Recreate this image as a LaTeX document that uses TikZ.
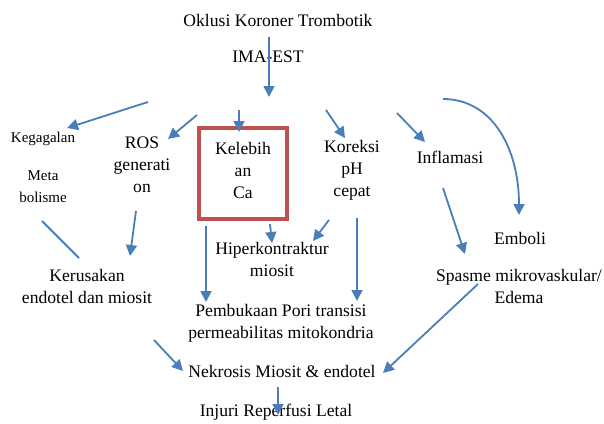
\documentclass[tikz,border=0pt]{standalone}
\usepackage{fontspec}
\setmainfont{Liberation Serif}
\usetikzlibrary{arrows.meta}
\definecolor{arr}{HTML}{4A7EBB}
\definecolor{boxred}{HTML}{C0504D}
\begin{document}
\begin{tikzpicture}[x=1pt,y=-1pt,
  lbl/.style={font=\fontsize{17.6}{22}\selectfont, align=center, inner sep=0pt},
  sml/.style={font=\fontsize{15}{22}\selectfont, align=center, inner sep=0pt},
  arw/.style={draw=arr, line width=1.8pt, -{Triangle[length=11pt,width=11pt]}},
  ln/.style={draw=arr, line width=1.8pt}]
\useasboundingbox (0,0) rectangle (604,423);
% nodes
\node[lbl] (okl) at (278,20) {Oklusi Koroner Trombotik};
\node[lbl] (ima) at (268,57) {IMA-EST};
\node[sml] (keg) at (43,139) {Kegagalan};
\node[sml] (meta) at (43,187) {Meta\\bolisme};
\node[lbl] (ros) at (142,165) {ROS\\generati\\on};
\node[draw=boxred, line width=4pt, minimum width=88pt, minimum height=91pt, inner sep=0pt] (box) at (243,173.5) {};
\node[lbl] (ca) at (243,170) {Kelebih\\an\\Ca};
\node[lbl] (kor) at (352,170) {Koreksi\\pH\\cepat};
\node[lbl] (inf) at (450,157) {Inflamasi};
\node[lbl] (emb) at (520,238) {Emboli};
\node[lbl] (hip) at (272,259) {Hiperkontraktur\\miosit};
\node[lbl] (ker) at (87,286) {Kerusakan\\endotel dan miosit};
\node[lbl] (spa) at (519,286) {Spasme mikrovaskular/\\Edema};
\node[lbl] (pem) at (281,323) {Pembukaan Pori transisi\\permeabilitas mitokondria};
\node[lbl] (nek) at (282,371) {Nekrosis Miosit \& endotel};
\node[lbl] (inj) at (276,412) {Injuri Reperfusi Letal};
% connector end points
\coordinate (a1s) at (269,37);  \coordinate (a1e) at (269,97);
\coordinate (a2s) at (148,102); \coordinate (a2e) at (67,128);
\coordinate (a3s) at (197,115); \coordinate (a3e) at (168,139);
\coordinate (a4s) at (239,110); \coordinate (a4e) at (239,132);
\coordinate (a5s) at (326,110); \coordinate (a5e) at (345,138);
\coordinate (a6s) at (397,113); \coordinate (a6e) at (425,142);
\coordinate (a7s) at (443,99);  \coordinate (a7e) at (519,215);
\coordinate (a8s) at (136,211); \coordinate (a8e) at (130,256);
\coordinate (a9s) at (42,221);  \coordinate (a9e) at (79,258);
\coordinate (a10s) at (270,224); \coordinate (a10e) at (272,243);
\coordinate (a11s) at (329,220); \coordinate (a11e) at (313,241);
\coordinate (a12s) at (206,226); \coordinate (a12e) at (206,302);
\coordinate (a13s) at (357,218); \coordinate (a13e) at (357,301);
\coordinate (a14s) at (443,188); \coordinate (a14e) at (465,254);
\coordinate (a15s) at (154,340); \coordinate (a15e) at (183,371);
\coordinate (a16s) at (478,284); \coordinate (a16e) at (383,373);
\coordinate (a17s) at (278,387); \coordinate (a17e) at (278,415);
% connectors
\draw[arw] (a1s) -- (a1e);
\draw[arw] (a2s) -- (a2e);
\draw[arw] (a3s) -- (a3e);
\draw[arw] (a4s) -- (a4e);
\draw[arw] (a5s) -- (a5e);
\draw[arw] (a6s) -- (a6e);
\draw[arw] (a7s) .. controls (492,99) and (519,148) .. (a7e);
\draw[arw] (a8s) -- (a8e);
\draw[ln]  (a9s) -- (a9e);
\draw[arw] (a10s) -- (a10e);
\draw[arw] (a11s) -- (a11e);
\draw[arw] (a12s) -- (a12e);
\draw[arw] (a13s) -- (a13e);
\draw[arw] (a14s) -- (a14e);
\draw[arw] (a15s) -- (a15e);
\draw[arw] (a16s) -- (a16e);
\draw[arw] (a17s) -- (a17e);
\end{tikzpicture}
\end{document}
